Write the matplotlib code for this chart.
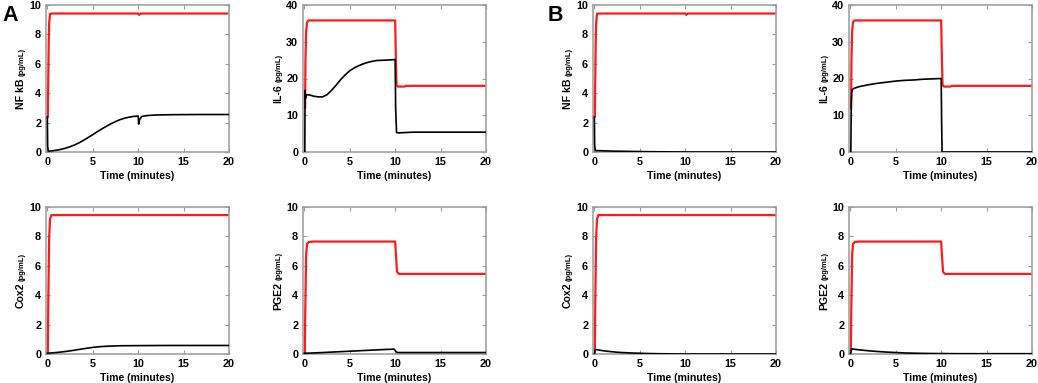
import matplotlib
matplotlib.use("Agg")
import matplotlib.pyplot as plt

plt.rcParams['font.family'] = ['Liberation Sans', 'DejaVu Sans']
plt.rcParams['font.weight'] = 'bold'

# ---------------- data ----------------
# Panel A
A_nfkb_red_t = [0.05, 0.1, 0.15, 0.2, 0.3, 0.5, 10.0, 10.1, 10.3, 20.0]
A_nfkb_red_y = [2.4, 5.0, 7.5, 8.8, 9.4, 9.42, 9.42, 9.33, 9.42, 9.42]
A_nfkb_blk_t = [0.0, 0.03, 0.1, 0.5, 1.0, 1.5, 2.0, 2.5, 3.0, 3.5, 4.0, 4.5, 5.0, 5.5, 6.0, 6.5,
                7.0, 7.5, 8.0, 8.5, 9.0, 9.5, 10.0, 10.05, 10.15, 10.4, 11, 12, 14, 17, 20]
A_nfkb_blk_y = [2.4, 0.4, 0.06, 0.08, 0.12, 0.18, 0.26, 0.36, 0.48, 0.63, 0.8, 0.99, 1.18, 1.38, 1.57, 1.75,
                1.92, 2.07, 2.2, 2.3, 2.37, 2.42, 2.45, 1.9, 2.2, 2.42, 2.48, 2.52, 2.54, 2.55, 2.55]

A_il6_red_t = [0.08, 0.12, 0.2, 0.3, 0.45, 10.0, 10.08, 10.15, 10.3, 11.0, 11.2, 20.0]
A_il6_red_y = [12.0, 25.0, 33.0, 35.3, 35.8, 35.8, 25.0, 18.2, 17.8, 17.8, 18.0, 18.0]
A_il6_blk_t = [0.05, 0.08, 0.12, 0.18, 0.3, 0.6, 1.0, 1.5, 2.0, 2.5, 3.0, 3.5, 4.0, 4.5, 5.0, 5.5,
               6.0, 6.5, 7.0, 7.5, 8.0, 9.0, 10.0, 10.05, 10.15, 10.4, 12.0, 20.0]
A_il6_blk_y = [0.0, 16.8, 14.5, 15.3, 15.6, 15.5, 15.2, 15.0, 15.0, 15.6, 16.8, 18.2, 19.7, 21.0, 22.1, 22.9,
               23.5, 24.0, 24.4, 24.7, 24.9, 25.0, 25.15, 12.0, 5.3, 5.2, 5.4, 5.4]

A_cox2_red_t = [0.05, 0.1, 0.2, 0.3, 0.45, 10.0, 11.0, 20.0]
A_cox2_red_y = [0.0, 3.5, 8.0, 9.2, 9.45, 9.45, 9.45, 9.45]
A_cox2_blk_t = [0.0, 1, 2, 3, 4, 5, 6, 7, 8, 10, 13, 20]
A_cox2_blk_y = [0.05, 0.1, 0.17, 0.26, 0.36, 0.45, 0.51, 0.54, 0.56, 0.57, 0.58, 0.58]

A_pge2_red_t = [0.05, 0.1, 0.2, 0.3, 0.5, 1.0, 10.0, 10.08, 10.2, 10.4, 20.0]
A_pge2_red_y = [0.0, 3.0, 6.8, 7.5, 7.62, 7.65, 7.65, 6.8, 5.6, 5.45, 5.45]
A_pge2_blk_t = [0.0, 1, 2, 3, 4, 5, 6, 7, 8, 9, 9.9, 10.1, 10.3, 12, 20]
A_pge2_blk_y = [0.05, 0.07, 0.1, 0.13, 0.16, 0.19, 0.22, 0.25, 0.28, 0.31, 0.33, 0.15, 0.1, 0.1, 0.1]

# Panel B
B_nfkb_red_t = A_nfkb_red_t
B_nfkb_red_y = A_nfkb_red_y
B_nfkb_blk_t = [0.0, 0.03, 0.1, 0.5, 1, 2, 3, 4, 6, 8, 10, 20]
B_nfkb_blk_y = [2.4, 0.5, 0.1, 0.09, 0.08, 0.06, 0.05, 0.04, 0.02, 0.01, 0.0, 0.0]

B_il6_red_t = A_il6_red_t
B_il6_red_y = A_il6_red_y
B_il6_blk_t = [0.05, 0.1, 0.15, 0.2, 0.3, 0.6, 1.0, 1.5, 2.0, 3.0, 4.0, 5.0, 6.0, 7.0, 8.0, 9.0, 10.0, 10.05, 10.1, 12.0, 20.0]
B_il6_blk_y = [0.0, 13.0, 16.3, 16.9, 17.2, 17.5, 17.8, 18.05, 18.3, 18.7, 19.0, 19.3, 19.5, 19.6, 19.8, 19.9, 20.0, 8.0, 0.0, 0.0, 0.0]

B_cox2_red_t = A_cox2_red_t
B_cox2_red_y = A_cox2_red_y
B_cox2_blk_t = [0.0, 0.1, 0.3, 0.6, 1, 1.5, 2, 2.5, 3, 4, 5, 6, 8, 10, 20]
B_cox2_blk_y = [0.0, 0.3, 0.29, 0.26, 0.22, 0.18, 0.15, 0.12, 0.1, 0.07, 0.05, 0.03, 0.01, 0.0, 0.0]

B_pge2_red_t = A_pge2_red_t
B_pge2_red_y = A_pge2_red_y
B_pge2_blk_t = [0.0, 0.15, 0.5, 1, 1.5, 2, 3, 4, 5, 6, 8, 10, 12, 20]
B_pge2_blk_y = [0.0, 0.35, 0.32, 0.28, 0.25, 0.22, 0.17, 0.13, 0.1, 0.07, 0.04, 0.03, 0.02, 0.02]

x_ticks = [0, 5, 10, 15, 20]
xlabel = "Time (minutes)"
unit = "(pg/mL)"

panels = [
    # (name, ymax, yticks, red t, red y, black t, black y)
    ("NF kB", 10, [0, 2, 4, 6, 8, 10], A_nfkb_red_t, A_nfkb_red_y, A_nfkb_blk_t, A_nfkb_blk_y),
    ("IL-6", 40, [0, 10, 20, 30, 40], A_il6_red_t, A_il6_red_y, A_il6_blk_t, A_il6_blk_y),
    ("Cox2", 10, [0, 2, 4, 6, 8, 10], A_cox2_red_t, A_cox2_red_y, A_cox2_blk_t, A_cox2_blk_y),
    ("PGE2", 10, [0, 2, 4, 6, 8, 10], A_pge2_red_t, A_pge2_red_y, A_pge2_blk_t, A_pge2_blk_y),
    ("NF kB", 10, [0, 2, 4, 6, 8, 10], B_nfkb_red_t, B_nfkb_red_y, B_nfkb_blk_t, B_nfkb_blk_y),
    ("IL-6", 40, [0, 10, 20, 30, 40], B_il6_red_t, B_il6_red_y, B_il6_blk_t, B_il6_blk_y),
    ("Cox2", 10, [0, 2, 4, 6, 8, 10], B_cox2_red_t, B_cox2_red_y, B_cox2_blk_t, B_cox2_blk_y),
    ("PGE2", 10, [0, 2, 4, 6, 8, 10], B_pge2_red_t, B_pge2_red_y, B_pge2_blk_t, B_pge2_blk_y),
]

W, H = 1038, 383
fig = plt.figure(figsize=(W / 100, H / 100), dpi=100)

lefts_px = [46, 303, 46, 303, 593, 849, 593, 849]
tops_px = [5, 5, 207, 207, 5, 5, 207, 207]
aw, ah = 183, 147

spine_col = '#9a9a9a'
axes = []
for (name, ymax, yt, rt, ry, bt, by), lx, ty in zip(panels, lefts_px, tops_px):
    ax = fig.add_axes([lx / W, 1 - (ty + ah) / H, aw / W, ah / H])
    ax.plot(rt, ry, color='#ff1a1a', lw=1.6, zorder=2)
    ax.plot(bt, by, color='black', lw=1.2, zorder=3)
    ax.set_xlim(-0.15, 20)
    ax.set_ylim(0, ymax)
    ax.set_xticks(x_ticks)
    ax.set_yticks(yt)
    for s in ax.spines.values():
        s.set_color(spine_col)
        s.set_linewidth(1.1)
    ax.tick_params(direction='in', length=3, width=0.8, color=spine_col,
                   top=True, right=True, labelsize=7.8, pad=3.5)
    for lab in ax.get_xticklabels() + ax.get_yticklabels():
        lab.set_fontweight('bold')
    ax.set_xlabel(xlabel, fontsize=7.6, fontweight='bold', labelpad=3)
    axes.append((ax, name))

fig.canvas.draw()
renderer = fig.canvas.get_renderer()
for ax, name in axes:
    bx = -22 / aw
    t1 = ax.text(bx, 0.5, name, transform=ax.transAxes, rotation=90,
                 rotation_mode='anchor', ha='left', va='baseline',
                 fontsize=7.6, fontweight='bold')
    t2 = ax.text(bx, 0.5, unit, transform=ax.transAxes, rotation=90,
                 rotation_mode='anchor', ha='left', va='baseline',
                 fontsize=5.5, fontweight='bold')
    e1 = t1.get_window_extent(renderer)
    e2 = t2.get_window_extent(renderer)
    gap = 2.0
    total = e1.height + gap + e2.height
    axh = ax.get_window_extent(renderer).height
    start = 0.5 - (total / 2) / axh
    t1.set_position((bx, start))
    t2.set_position((bx, start + (e1.height + gap) / axh))

fig.text(2 / W, 1 - 21 / H, "A", fontsize=15.5, fontweight='bold', ha='left', va='baseline')
fig.text(548 / W, 1 - 21 / H, "B", fontsize=15.5, fontweight='bold', ha='left', va='baseline')

fig.savefig("out.png", dpi=100)
